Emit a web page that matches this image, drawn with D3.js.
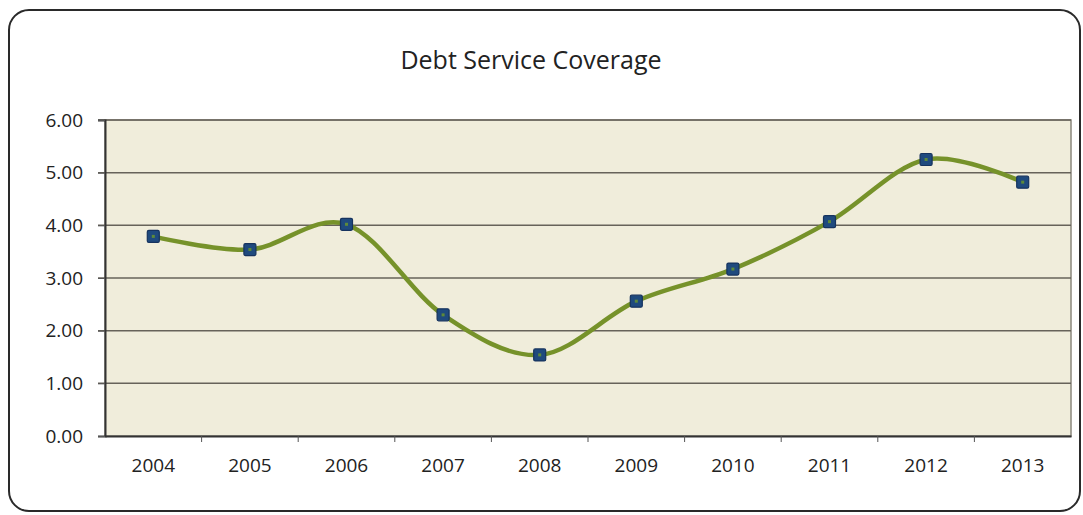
<!DOCTYPE html>
<html><head><meta charset="utf-8">
<script src="https://cdn.jsdelivr.net/npm/d3@7"></script>
<style>html,body{margin:0;padding:0;background:#fff;}svg{display:block;}</style>
</head><body>
<svg id="chart" width="1083" height="515"></svg>
<script>
const categories = ["2004","2005","2006","2007","2008","2009","2010","2011","2012","2013"];
const values = [3.79, 3.54, 4.02, 2.30, 1.54, 2.56, 3.17, 4.07, 5.25, 4.82];
const yTicks = [0, 1, 2, 3, 4, 5, 6];
const title = "Debt Service Coverage";

const svg = d3.select("#chart");
const font = "'Open Sans', sans-serif";
const plot = {left: 105, top: 120, right: 1071, bottom: 436};

svg.append("rect").attr("x", 9).attr("y", 10).attr("width", 1071).attr("height", 501)
  .attr("rx", 20).attr("fill", "#fff").attr("stroke", "#2a2a2a").attr("stroke-width", 2);

svg.append("text").attr("x", 531).attr("y", 69).attr("text-anchor", "middle")
  .attr("font-family", font).attr("font-size", 25).attr("fill", "#222").text(title);

const x = d3.scaleBand().domain(categories).range([plot.left, plot.right]);
const y = d3.scaleLinear().domain([0, 6]).range([plot.bottom, plot.top]);

svg.append("rect").attr("x", plot.left).attr("y", plot.top)
  .attr("width", plot.right - plot.left).attr("height", plot.bottom - plot.top)
  .attr("fill", "#f0eddb").attr("stroke", "#8a877c").attr("stroke-width", 1.5);

// gridlines
svg.append("g").selectAll("line").data(yTicks.filter(d => d > 0)).join("line")
  .attr("x1", plot.left - 7).attr("x2", plot.right)
  .attr("y1", d => y(d)).attr("y2", d => y(d))
  .attr("stroke", "#67635a").attr("stroke-width", 1.5);

// y axis
const yAxis = svg.append("g").attr("transform", `translate(${plot.left},0)`)
  .call(d3.axisLeft(y).tickValues(yTicks).tickFormat(d3.format(".2f")).tickSize(7).tickPadding(15));
yAxis.select(".domain").attr("stroke", "#333").attr("stroke-width", 2);
yAxis.selectAll(".tick line").attr("stroke", "#555");
yAxis.selectAll("text").attr("font-family", font).attr("font-size", 19).attr("fill", "#222");

// x axis
const xAxis = svg.append("g").attr("transform", `translate(0,${plot.bottom})`)
  .call(d3.axisBottom(x).tickSize(0).tickPadding(23));
xAxis.select(".domain").attr("stroke", "#333").attr("stroke-width", 2);
xAxis.selectAll("text").attr("font-family", font).attr("font-size", 19).attr("fill", "#222");
xAxis.selectAll(".bound").data(categories.slice(1)).join("line").attr("class", "bound")
  .attr("x1", d => x(d)).attr("x2", d => x(d)).attr("y1", 0).attr("y2", 6)
  .attr("stroke", "#555").attr("stroke-width", 1);

const cx = (d, i) => x(categories[i]) + x.bandwidth() / 2;
const line = d3.line().x((d, i) => cx(d, i)).y(d => y(d)).curve(d3.curveCardinal.tension(0));
svg.append("path").datum(values).attr("d", line).attr("fill", "none")
  .attr("stroke", "#76922a").attr("stroke-width", 4.5).attr("stroke-linecap", "round");

const m = svg.append("g").selectAll("g").data(values).join("g")
  .attr("transform", (d, i) => `translate(${cx(d, i)},${y(d)})`);
m.append("rect").attr("x", -6).attr("y", -6).attr("width", 12).attr("height", 12).attr("rx", 1.5)
  .attr("fill", "#1f4a7e").attr("stroke", "#16335f").attr("stroke-width", 1.2);
m.append("rect").attr("x", -1.5).attr("y", -1.5).attr("width", 3).attr("height", 3)
  .attr("fill", "#5d8a3a");
</script>
</body></html>
